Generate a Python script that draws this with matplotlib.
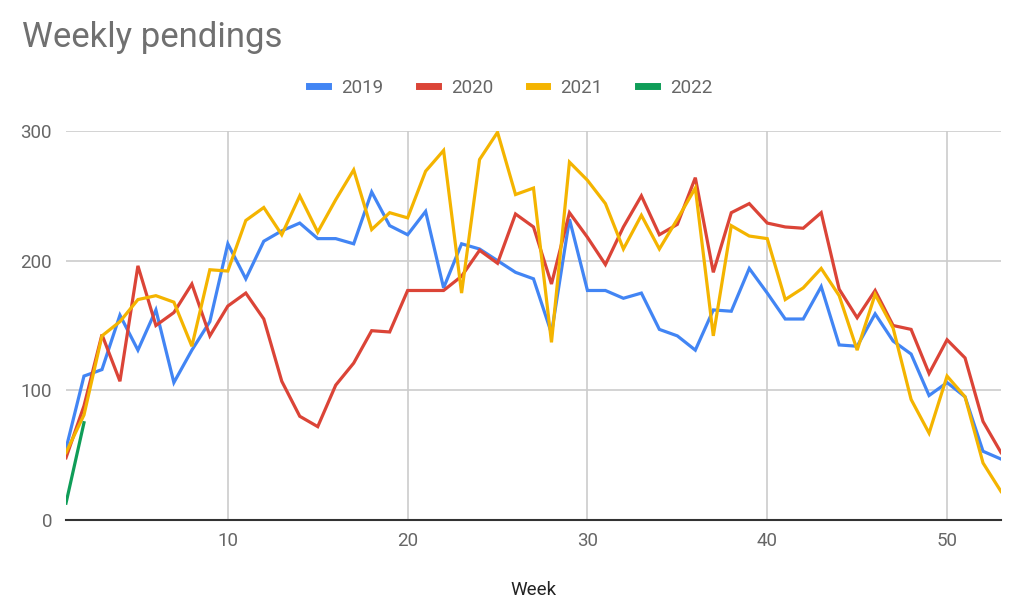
import matplotlib.pyplot as plt
from matplotlib.lines import Line2D

plt.rcParams['font.family'] = ['Roboto', 'DejaVu Sans']

weeks = list(range(1, 54))

pend_2019 = [55, 111, 116, 158, 131, 162, 106, 131, 153, 213,
             186, 215, 223, 229, 217, 217, 213, 253, 227, 220,
             238, 179, 213, 209, 200, 191, 186, 144, 232, 177,
             177, 171, 175, 147, 142, 131, 162, 161, 194, 175,
             155, 155, 180, 135, 134, 159, 138, 128, 96, 106,
             95, 53, 47]
pend_2020 = [48, 88, 143, 107, 196, 150, 160, 182, 142, 165,
             175, 155, 107, 80, 72, 104, 121, 146, 145, 177,
             177, 177, 188, 208, 198, 236, 226, 182, 237, 218,
             197, 226, 250, 220, 228, 264, 191, 237, 244, 229,
             226, 225, 237, 178, 156, 177, 150, 147, 113, 139,
             125, 76, 52]
pend_2021 = [52, 81, 142, 153, 170, 173, 168, 134, 193, 192,
             231, 241, 220, 250, 222, 247, 270, 224, 237, 233,
             269, 285, 175, 278, 299, 251, 256, 137, 276, 262,
             244, 209, 235, 209, 232, 256, 142, 227, 219, 217,
             170, 179, 194, 173, 131, 174, 148, 93, 67, 111,
             95, 44, 22]
weeks_2022 = [1, 2]
pend_2022 = [13, 75]

series = [("2019", pend_2019, "#4285F4"),
          ("2020", pend_2020, "#DB4437"),
          ("2021", pend_2021, "#F4B400")]

fig = plt.figure(figsize=(10.24, 6.16), dpi=100)
ax = fig.add_axes([66 / 1024, 96 / 616, 935 / 1024, 389 / 616])

for name, vals, col in series:
    ax.plot(weeks, vals, color=col, lw=2.3, solid_joinstyle='miter', zorder=3)
ax.plot(weeks_2022, pend_2022, color="#0F9D58", lw=2.3, zorder=3)

ax.set_xlim(1, 53)
ax.set_ylim(0, 300)
ax.set_xticks([10, 20, 30, 40, 50])
ax.set_yticks([0, 100, 200, 300])
ax.grid(True, color="#cccccc", lw=1.2, zorder=0)
for s in ["top", "right", "left"]:
    ax.spines[s].set_visible(False)
ax.spines["bottom"].set_color("#333333")
ax.spines["bottom"].set_linewidth(1.5)
ax.spines["bottom"].set_zorder(4)
ax.tick_params(length=0, labelsize=13.5, labelcolor="#666666")
ax.tick_params(axis='y', pad=10)
ax.tick_params(axis='x', pad=9)

ax.set_xlabel("Week", fontsize=13.5, color="#222222", labelpad=22)

fig.text(22 / 1024, 1 - 38 / 616, "Weekly pendings", fontsize=25,
         color="#707070", va="center", ha="left")

handles = [Line2D([0], [0], color=c, lw=5) for _, _, c in series]
handles.append(Line2D([0], [0], color="#0F9D58", lw=5))
labels = ["2019", "2020", "2021", "2022"]
fig.legend(handles, labels, loc="center", bbox_to_anchor=(511 / 1024, 1 - 88 / 616),
           ncol=4, frameon=False, fontsize=13.5, labelcolor="#666666",
           handlelength=1.0, handletextpad=0.7, columnspacing=1.9)

fig.savefig("out.png", dpi=100)
